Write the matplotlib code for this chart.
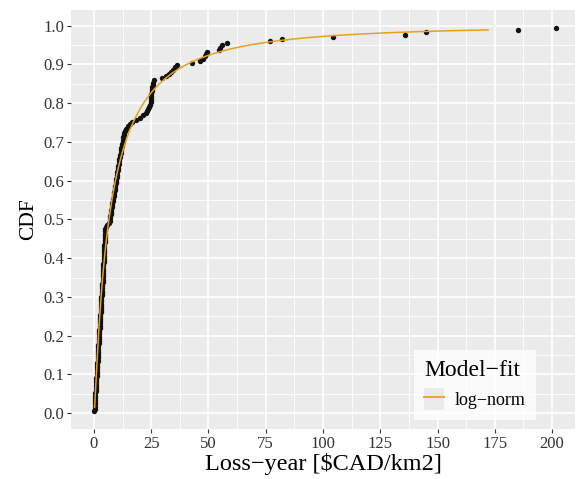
import math
import numpy as np
import matplotlib
matplotlib.use("Agg")
import matplotlib.pyplot as plt
from matplotlib.lines import Line2D
from matplotlib.patches import Patch

# loss per year [$CAD/km2], sorted sample
loss = [
    0.2, 0.25, 0.3, 0.35, 0.42, 0.48, 0.55, 0.6, 0.66, 0.72,
    0.78, 0.85, 0.9, 0.96, 1.02, 1.08, 1.15, 1.2, 1.26, 1.32,
    1.38, 1.45, 1.5, 1.56, 1.62, 1.68, 1.75, 1.8, 1.86, 1.92,
    1.98, 2.05, 2.1, 2.16, 2.22, 2.28, 2.35, 2.4, 2.46, 2.52,
    2.58, 2.65, 2.7, 2.76, 2.82, 2.88, 2.95, 3.0, 3.06, 3.12,
    3.18, 3.25, 3.3, 3.36, 3.42, 3.48, 3.55, 3.6, 3.68, 3.75,
    3.8, 3.85, 3.9, 3.96, 4.0, 4.06, 4.1, 4.15, 4.2, 4.26,
    4.3, 4.36, 4.4, 4.45, 4.5, 4.56, 4.6, 4.66, 4.7, 4.76,
    4.8, 4.86, 4.92, 5.0, 5.1, 5.8, 6.5, 6.8, 7.0, 7.2,
    7.35, 7.5, 7.65, 7.8, 7.95, 8.1, 8.3, 8.45, 8.6, 8.75,
    8.9, 9.05, 9.2, 9.35, 9.5, 9.65, 9.8, 9.95, 10.1, 10.25,
    10.4, 10.55, 10.7, 10.85, 11.0, 11.15, 11.3, 11.45, 11.6, 11.75,
    11.9, 12.1, 12.3, 12.5, 12.7, 12.9, 13.1, 13.3, 13.6, 13.9,
    14.8, 15.8, 16.8, 18.3, 20.0, 21.5, 22.6, 23.3, 23.8, 24.2,
    24.5, 24.7, 24.8, 24.9, 25.0, 25.1, 25.2, 25.3, 25.4, 25.6,
    25.8, 26.1, 29.9, 31.5, 32.8, 33.6, 34.3, 35.2, 36.2, 42.9,
    46.5, 47.8, 48.3, 48.8, 49.5, 54.5, 55.0, 55.8, 58.1, 77.0,
    82.3, 104.5, 135.6, 144.8, 185.0, 201.6,
]

# log-normal fit (meanlog, sdlog) and range of the fitted line
fit_meanlog = 1.88
fit_sdlog = 1.42
fit_from = 0.3
fit_to = 172.0

x_ticks = [0, 25, 50, 75, 100, 125, 150, 175, 200]
y_ticks = [0.0, 0.1, 0.2, 0.3, 0.4, 0.5, 0.6, 0.7, 0.8, 0.9, 1.0]

plt.rcParams['font.family'] = ['Liberation Serif', 'DejaVu Serif']

# empirical cdf
xs = np.sort(np.array(loss))
n = len(xs)
ecdf = np.arange(1, n + 1) / (n + 1)

# fitted curve
xf = np.linspace(fit_from, fit_to, 400)
yf = np.array([0.5 * (1 + math.erf((math.log(v) - fit_meanlog) / (fit_sdlog * math.sqrt(2)))) for v in xf])

fig = plt.figure(figsize=(5.76, 4.79), dpi=100)
ax = fig.add_axes([0.1233, 0.1044, 0.875, 0.875])
ax.set_facecolor('#EBEBEB')

ax.set_xticks(x_ticks)
ax.set_yticks(y_ticks)
ax.set_xticks([12.5 + 25 * i for i in range(9)], minor=True)
ax.set_yticks([0.05 + 0.1 * i for i in range(10)], minor=True)
ax.set_yticklabels(['%.1f' % v for v in y_ticks])
ax.grid(which='major', color='white', lw=1.2)
ax.grid(which='minor', color='white', lw=0.6)
ax.set_axisbelow(True)
for s in ax.spines.values():
    s.set_visible(False)
ax.tick_params(which='major', length=3, width=0.8, color='#333333', labelsize=12, labelcolor='#333333', pad=2)
ax.tick_params(which='minor', length=0)

ax.scatter(xs, ecdf, s=15, color='#111111', zorder=3, linewidths=0)
ax.plot(xf, yf, color='#E6A21A', lw=1.1, zorder=4)

ax.set_xlim(-10, 210)
ax.set_ylim(-0.041, 1.041)
ax.set_xlabel('Loss\u2212year [$CAD/km2]', fontsize=17.5, labelpad=1)
ax.set_ylabel('CDF', fontsize=15.5, labelpad=4)

key = (Patch(facecolor='#EBEBEB', edgecolor='none'), Line2D([], [], color='#E6A21A', lw=1.3))
leg = ax.legend([key], ['log\u2212norm'], title='Model\u2212fit', loc='lower left',
                bbox_to_anchor=(0.681, 0.0215), borderaxespad=0, frameon=True,
                fancybox=False, fontsize=13, title_fontsize=17, handlelength=1.1,
                handleheight=1.5, handletextpad=0.6, borderpad=0.55, labelspacing=0.4)
leg.get_frame().set_facecolor('white')
leg.get_frame().set_edgecolor('none')
leg._legend_box.align = 'left'

fig.savefig('out.png', dpi=100)
